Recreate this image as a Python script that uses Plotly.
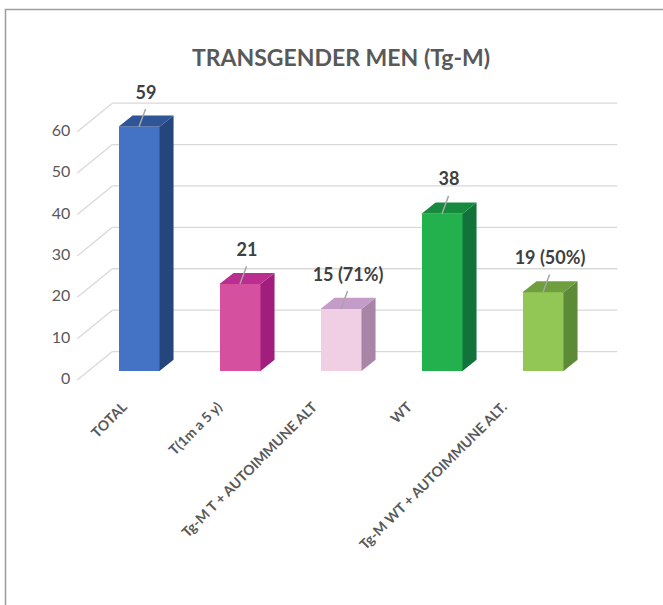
import plotly.graph_objects as go

# ---- data ----
categories = ["TOTAL", "T(1m a 5 y)", "Tg-M T + AUTOIMMUNE ALT", "WT", "Tg-M WT + AUTOIMMUNE ALT."]
values = [59, 21, 15, 38, 19]
value_labels = ["59", "21", "15 (71%)", "38", "19 (50%)"]
y_ticks = [0, 10, 20, 30, 40, 50, 60]

front_colors = ["#4472C4", "#D5509E", "#F0CFE4", "#22B14C", "#92C655"]
side_colors = ["#25467C", "#A21E7C", "#A884A6", "#12733A", "#5C8A36"]
top_colors = ["#2F5597", "#B92E8E", "#C49CC8", "#178A3E", "#6E9E3E"]

# ---- 3D projection constants (data units) ----
W = 0.406          # bar front width (category units)
SDX, SDY = 0.139, 2.7    # bar depth offset
FDX, FDY = 0.111, 2.2    # bar plane -> front floor plane
BDX, BDY = 0.236, 4.7    # bar plane -> back wall plane

n = len(categories)
xs = list(range(n))

fig = go.Figure()

# front faces
fig.add_trace(go.Bar(x=xs, y=values, width=W, marker=dict(color=front_colors, line=dict(width=0)),
                     hoverinfo="skip", showlegend=False))

# side and top faces
for i, v in enumerate(values):
    xr = i + W / 2
    xl = i - W / 2
    fig.add_trace(go.Scatter(x=[xr, xr, xr + SDX, xr + SDX, xr], y=[0, v, v + SDY, SDY, 0],
                             fill="toself", fillcolor=side_colors[i], mode="lines",
                             line=dict(width=0, color=side_colors[i]), hoverinfo="skip", showlegend=False))
    fig.add_trace(go.Scatter(x=[xl, xr, xr + SDX, xl + SDX, xl], y=[v, v, v + SDY, v + SDY, v],
                             fill="toself", fillcolor=top_colors[i], mode="lines",
                             line=dict(width=0, color=top_colors[i]), hoverinfo="skip", showlegend=False))

# leader lines and value labels
for i, v in enumerate(values):
    fig.add_trace(go.Scatter(x=[i, i + 0.065], y=[v, v + 4.3], mode="lines",
                             line=dict(color="#A6A6A6", width=1.5), hoverinfo="skip", showlegend=False))
fig.add_trace(go.Scatter(x=[i + 0.07 for i in xs], y=[v + 7.9 for v in values], mode="text",
                         text=value_labels, textposition="middle center",
                         textfont=dict(family="Lato", size=18, color="#404040", weight="bold"),
                         hoverinfo="skip", showlegend=False))

# y tick labels at the front floor plane
fig.add_trace(go.Scatter(x=[-0.5 - FDX - 0.07] * len(y_ticks), y=[t - FDY for t in y_ticks], mode="text",
                         text=[str(t) for t in y_ticks], textposition="middle left",
                         textfont=dict(family="Lato", size=16, color="#595959"),
                         hoverinfo="skip", showlegend=False))

# invisible trace for the category-label axis
fig.add_trace(go.Scatter(x=xs, y=values, xaxis="x2", mode="markers", marker=dict(opacity=0),
                         hoverinfo="skip", showlegend=False))

# gridlines: back wall and left wall diagonals (drawn below the bars)
shapes = []
for t in y_ticks:
    shapes.append(dict(type="line", xref="x", yref="y", layer="below",
                       x0=-0.5 + BDX, x1=n - 0.5 + BDX, y0=t + BDY, y1=t + BDY,
                       line=dict(color="#D9D9D9", width=1.3)))
    shapes.append(dict(type="line", xref="x", yref="y", layer="below",
                       x0=-0.5 - FDX, x1=-0.5 + BDX, y0=t - FDY, y1=t + BDY,
                       line=dict(color="#D9D9D9", width=1.3)))
# chart border
shapes.append(dict(type="rect", xref="paper", yref="paper", layer="above",
                   x0=5.5 / 663, x1=1.02, y0=-0.02, y1=1 - 9.5 / 605,
                   line=dict(color="#A0A0A0", width=1.6)))

fig.update_layout(
    width=663, height=605,
    margin=dict(l=0, r=0, t=0, b=0),
    paper_bgcolor="white", plot_bgcolor="white",
    bargap=0,
    shapes=shapes,
    title=dict(text="TRANSGENDER MEN (Tg-M)", x=341 / 663, xanchor="center",
               y=1 - 58 / 605, yanchor="middle",
               font=dict(family="Lato", size=23, color="#595959", weight="bold")),
    xaxis=dict(range=[-139 / 101, (663 - 139) / 101], visible=False, fixedrange=True),
    yaxis=dict(range=[-(605 - 371) / 4.14, 371 / 4.14], visible=False, fixedrange=True),
    xaxis2=dict(overlaying="x", anchor="free", position=(605 - 395) / 605, side="bottom",
                range=[-123 / 95, (663 - 123) / 95], tickmode="array", tickvals=xs, ticktext=categories,
                tickangle=-45, showgrid=False, zeroline=False, showline=False, ticks="",
                tickfont=dict(family="Lato", size=14, color="#595959", weight="bold"), fixedrange=True),
)

fig.write_html("out.html", config={"displayModeBar": False},
               post_script="document.body.style.margin='0';")
